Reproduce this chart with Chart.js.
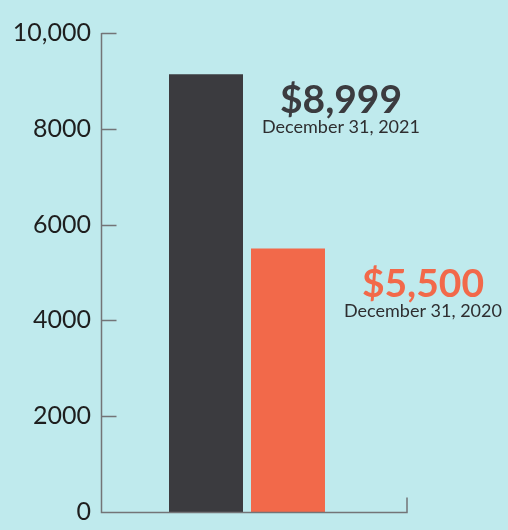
<!DOCTYPE html>
<html>
<head>
<meta charset="utf-8">
<script src="https://cdn.jsdelivr.net/npm/chart.js@4"></script>
<style>
  body { margin: 0; background: #bfeaed; }
  canvas { display: block; }
</style>
</head>
<body>
<canvas id="chart" width="508" height="530"></canvas>
<script>
"use strict";

// data
let categories = ['December 31, 2021', 'December 31, 2020'];
let values = [9140, 5500];
let valueLabels = ['$8,999', '$5,500'];
let yTicks = [0, 2000, 4000, 6000, 8000, 10000];

let barColors = ['#3b3b3f', '#f2694a'];
let labelColors = ['#3b3b3f', '#f2694a'];
let labelDy = [39, 48];

let axisColor = '#737477';

let datasets = categories.map(function (c, i) {
  return {
    label: c,
    data: [values[i]],
    backgroundColor: barColors[i],
    borderWidth: 0,
    categoryPercentage: 0.5616,
    barPercentage: 0.9024,
  };
});

// axis line, inward ticks and the little end tick on the right
let axisPlugin = {
  id: 'axisLines',
  afterDatasetsDraw(chart) {
    let ctx = chart.ctx;
    let y = chart.scales.y;
    let area = chart.chartArea;
    let left = area.left + 0.5;
    let bottom = y.getPixelForValue(0) + 0.5;
    let top = y.getPixelForValue(yTicks[yTicks.length - 1]);
    let rightEnd = area.right + 14;

    ctx.save();
    ctx.strokeStyle = axisColor;
    ctx.lineWidth = 1.5;
    ctx.beginPath();
    ctx.moveTo(left, top);
    ctx.lineTo(left, bottom);
    ctx.lineTo(rightEnd, bottom);
    ctx.lineTo(rightEnd, bottom - 15);
    for (let i = 0; i < yTicks.length; i++) {
      if (yTicks[i] === 0) continue;
      let ty = Math.round(y.getPixelForValue(yTicks[i])) + 0.5;
      ctx.moveTo(left, ty);
      ctx.lineTo(left + 15, ty);
    }
    ctx.stroke();
    ctx.restore();
  }
};

// value + date text beside each bar
let labelPlugin = {
  id: 'barLabels',
  afterDatasetsDraw(chart) {
    let ctx = chart.ctx;
    ctx.save();
    ctx.textAlign = 'center';
    ctx.textBaseline = 'alphabetic';
    for (let i = 0; i < categories.length; i++) {
      let bar = chart.getDatasetMeta(i).data[0];
      let cx = bar.x + bar.width / 2 + 98;
      let by = bar.y + labelDy[i];
      ctx.fillStyle = labelColors[i];
      ctx.font = 'bold 39px Lato';
      ctx.fillText(valueLabels[i], cx, by);
      ctx.fillStyle = '#2e2e30';
      ctx.font = '18px Lato';
      ctx.fillText(categories[i], cx, by + 20);
    }
    ctx.restore();
  }
};

let config = {
  type: 'bar',
  data: {
    labels: [''],
    datasets: datasets,
  },
  options: {
    responsive: false,
    animation: false,
    layout: {
      padding: { top: 33, bottom: 18, left: 0, right: 115 }
    },
    plugins: {
      legend: { display: false },
      tooltip: { enabled: false },
    },
    scales: {
      x: {
        display: false,
      },
      y: {
        min: 0,
        max: 10000,
        afterBuildTicks: function (scale) {
          scale.ticks = yTicks.map(function (v) { return { value: v }; });
        },
        afterFit: function (scale) {
          scale.width = 101;
          scale.paddingTop = 0;
          scale.paddingBottom = 0;
        },
        grid: { display: false, drawTicks: false },
        border: { display: false },
        ticks: {
          padding: 10,
          color: '#1e1e1e',
          font: { family: 'Lato', size: 25 },
          callback: function (v) {
            return v >= 10000 ? v.toLocaleString('en-US') : String(v);
          }
        }
      }
    }
  },
  plugins: [axisPlugin, labelPlugin],
};

let myChart = new Chart(document.getElementById('chart'), config);
</script>
</body>
</html>
